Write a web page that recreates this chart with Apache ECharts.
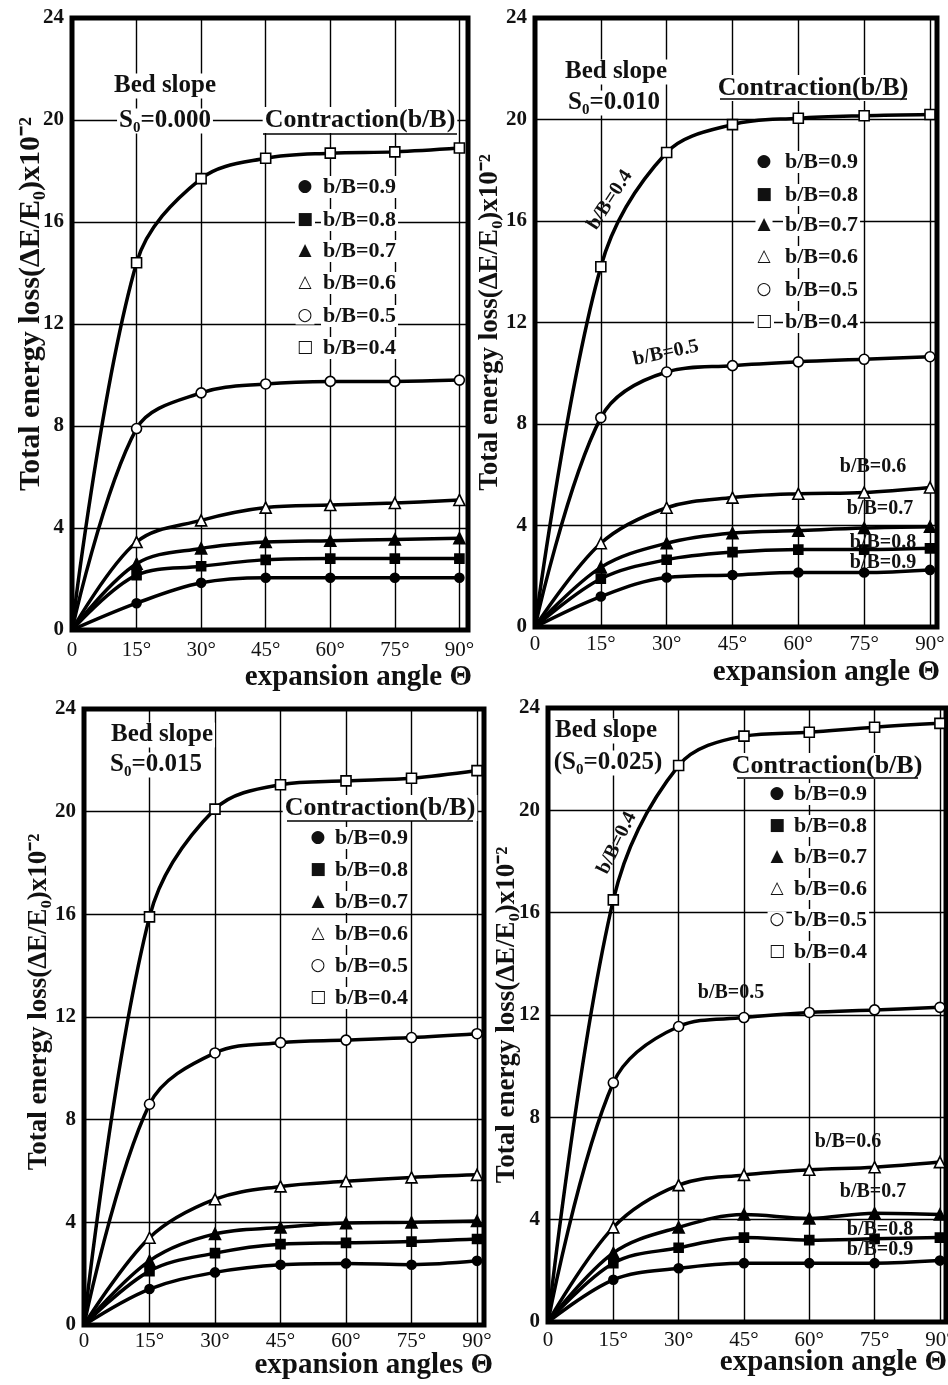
<!DOCTYPE html>
<html><head><meta charset="utf-8">
<script src="https://cdn.jsdelivr.net/npm/echarts@6/dist/echarts.min.js"></script>
<style>html,body{margin:0;padding:0;background:#fff}#c{width:948px;height:1385px}</style>
</head><body><div id="c"></div>
<script>
// ---------- data ----------
const angles = [0, 15, 30, 45, 60, 75, 90];
const xTickLabels = ['0', '15°', '30°', '45°', '60°', '75°', '90°'];
const yTickValues = [0, 4, 8, 12, 16, 20, 24];
const ratioNames = ['b/B=0.9', 'b/B=0.8', 'b/B=0.7', 'b/B=0.6', 'b/B=0.5', 'b/B=0.4'];
const slopeLabels = ['S₀=0.000', 'S₀=0.010', 'S₀=0.015', '(S₀=0.025)'];
const xAxisTitles = ['expansion angle Θ', 'expansion angle Θ', 'expansion angles Θ', 'expansion angle Θ'];
const yAxisTitle = 'Total energy loss(ΔE/E₀)x10⁻²';

// Bed slope S0 = 0.000
const s000_b09 = [0, 1.05, 1.85, 2.05, 2.05, 2.05, 2.05];
const s000_b08 = [0, 2.15, 2.5, 2.75, 2.8, 2.8, 2.8];
const s000_b07 = [0, 2.6, 3.2, 3.45, 3.5, 3.55, 3.6];
const s000_b06 = [0, 3.45, 4.3, 4.8, 4.9, 4.98, 5.1];
const s000_b05 = [0, 7.9, 9.3, 9.65, 9.75, 9.75, 9.8];
const s000_b04 = [0, 14.4, 17.7, 18.5, 18.7, 18.75, 18.9];
// Bed slope S0 = 0.010
const s010_b09 = [0, 1.2, 1.95, 2.05, 2.15, 2.15, 2.25];
const s010_b08 = [0, 1.9, 2.65, 2.95, 3.05, 3.05, 3.1];
const s010_b07 = [0, 2.35, 3.3, 3.7, 3.8, 3.9, 3.95];
const s010_b06 = [0, 3.3, 4.7, 5.1, 5.25, 5.3, 5.5];
const s010_b05 = [0, 8.25, 10.05, 10.3, 10.45, 10.55, 10.65];
const s010_b04 = [0, 14.2, 18.7, 19.8, 20.05, 20.15, 20.2];
// Bed slope S0 = 0.015
const s015_b09 = [0, 1.4, 2.05, 2.35, 2.4, 2.35, 2.5];
const s015_b08 = [0, 2.1, 2.8, 3.15, 3.2, 3.25, 3.35];
const s015_b07 = [0, 2.5, 3.55, 3.8, 3.97, 4.0, 4.05];
const s015_b06 = [0, 3.4, 4.9, 5.4, 5.6, 5.75, 5.85];
const s015_b05 = [0, 8.6, 10.6, 11.0, 11.1, 11.2, 11.35];
const s015_b04 = [0, 15.9, 20.1, 21.05, 21.2, 21.3, 21.6];
// Bed slope S0 = 0.025
const s025_b09 = [0, 1.65, 2.1, 2.3, 2.3, 2.3, 2.4];
const s025_b08 = [0, 2.3, 2.9, 3.3, 3.2, 3.25, 3.3];
const s025_b07 = [0, 2.7, 3.7, 4.2, 4.05, 4.25, 4.2];
const s025_b06 = [0, 3.7, 5.35, 5.75, 5.95, 6.05, 6.25];
const s025_b05 = [0, 9.35, 11.55, 11.9, 12.1, 12.2, 12.3];
const s025_b04 = [0, 16.5, 21.75, 22.9, 23.05, 23.25, 23.4];

// ---------- layout / styles ----------
const panelSeries = [
  [s000_b09, s000_b08, s000_b07, s000_b06, s000_b05, s000_b04],
  [s010_b09, s010_b08, s010_b07, s010_b06, s010_b05, s010_b04],
  [s015_b09, s015_b08, s015_b07, s015_b06, s015_b05, s015_b04],
  [s025_b09, s025_b08, s025_b07, s025_b06, s025_b05, s025_b04]
];
const panelBox = [
  {left: 72, top: 18, width: 396, height: 612, xMax: 92, lblM: 10, xPad: 33, xGap: 4, yGap: 26, yFont: 30, yShift: 40},
  {left: 535, top: 18, width: 402, height: 609, xMax: 91.6, lblM: 7, xPad: 31, xGap: 3, yGap: 31, yFont: 27, yShift: 0},
  {left: 84, top: 709, width: 400, height: 616, xMax: 91.6, lblM: 6, xPad: 26, xGap: 9, yGap: 31, yFont: 27, yShift: 30},
  {left: 548, top: 708, width: 398, height: 614, xMax: 91.4, lblM: 8, xPad: 26, xGap: 1, yGap: 27, yFont: 27, yShift: 0}
];
const symbolSpecs = [
  {symbol: 'circle', size: 9, fill: '#000'},
  {symbol: 'rect', size: 9, fill: '#000'},
  {symbol: 'triangle', size: 11, fill: '#000'},
  {symbol: 'triangle', size: 11, fill: '#fff'},
  {symbol: 'circle', size: 10, fill: '#fff'},
  {symbol: 'rect', size: 10, fill: '#fff'}
];
const legendGlyphs = ['●', '■', '▲', '△', '○', '□'];
const SERIF = '"Liberation Serif","Times New Roman",serif';
const NARROW = '"Liberation Sans Narrow","Liberation Serif",sans-serif';

const grids = [], xAxes = [], yAxes = [], series = [];
panelBox.forEach((b, p) => {
  grids.push({left: b.left, top: b.top, width: b.width, height: b.height,
    show: true, borderColor: '#000', borderWidth: 5, backgroundColor: '#fff',
    outerBoundsMode: 'none', containLabel: false});
  xAxes.push({type: 'value', gridIndex: p, min: 0, max: b.xMax, interval: 15,
    axisLine: {show: false}, axisTick: {show: false},
    splitLine: {show: true, lineStyle: {color: '#000', width: 1.4}},
    axisLabel: {margin: b.lblM, color: '#111', fontFamily: NARROW, fontSize: 21,
      formatter: v => { const i = angles.indexOf(v); return i >= 0 ? xTickLabels[i] : ''; }},
    name: xAxisTitles[p], nameLocation: 'end', nameGap: b.xGap, nameMoveOverlap: false,
    nameTextStyle: {fontFamily: SERIF, fontWeight: 'bold', fontSize: 29, color: '#111',
      align: 'right', verticalAlign: 'top', padding: [b.xPad, 0, 0, 0]}
  });
  yAxes.push({type: 'value', gridIndex: p, min: 0, max: 24, interval: 4,
    axisLine: {show: false}, axisTick: {show: false},
    splitLine: {show: true, lineStyle: {color: '#000', width: 1.4}},
    axisLabel: {margin: 8, color: '#111', fontFamily: NARROW, fontWeight: 'bold', fontSize: 21,
      formatter: v => yTickValues.indexOf(v) >= 0 ? String(v) : ''},
    name: yAxisTitle, nameLocation: 'middle', nameRotate: 90, nameGap: b.yGap, nameMoveOverlap: false,
    nameTextStyle: {fontFamily: SERIF, fontWeight: 'bold', fontSize: b.yFont, color: '#111',
      padding: [0, 0, 0, b.yShift]}
  });
  panelSeries[p].forEach((vals, j) => {
    const s = symbolSpecs[j];
    series.push({
      type: 'line', name: ratioNames[j] + ' (' + slopeLabels[p] + ')',
      xAxisIndex: p, yAxisIndex: p, smooth: 0.35,
      symbol: s.symbol, symbolSize: s.size, showAllSymbol: true,
      lineStyle: {color: '#000', width: 3.5},
      itemStyle: {color: s.fill, borderColor: '#000', borderWidth: 1.6},
      z: 3,
      data: angles.map((a, k) => k === 0 ? {value: [a, vals[k]], symbol: 'none'} : [a, vals[k]])
    });
  });
});

// ---------- annotations ----------
const g = [];
function txt(x, y, text, size, opts) {
  opts = opts || {};
  g.push({type: 'text', x: x, y: y, z: 50, rotation: opts.rot || 0,
    style: {text: text, fill: '#111', font: (opts.weight || 'bold') + ' ' + size + 'px ' + (opts.family || SERIF),
      textAlign: opts.align || 'center', textVerticalAlign: 'middle',
      align: opts.align || 'center', verticalAlign: 'middle',
      backgroundColor: opts.bg ? '#fff' : null, padding: opts.bg ? [0, 2] : 0}});
}
function uline(x1, x2, y) {
  g.push({type: 'line', z: 51, shape: {x1: x1, y1: y, x2: x2, y2: y}, style: {stroke: '#000', lineWidth: 1.6}});
}
const headerPos = [
  {bed: [165, 86], slope: [165, 121], con: [360, 120], ul: [263, 457, 134], sym: 305, txt: 321, ly: [187, 220, 251, 283, 316, 348]},
  {bed: [616, 72], slope: [614, 103], con: [813, 88], ul: [720, 907, 99], sym: 764, txt: 783, ly: [162, 195, 225, 257, 290, 322]},
  {bed: [162, 735], slope: [156, 765], con: [380, 808], ul: [287, 473, 821], sym: 318, txt: 333, ly: [838, 870, 902, 934, 966, 998]},
  {bed: [606, 731], slope: [608, 763], con: [827, 766], ul: [737, 918, 778], sym: 777, txt: 792, ly: [794, 826, 857, 889, 920, 952]}
];
headerPos.forEach((h, p) => {
  txt(h.bed[0], h.bed[1], 'Bed slope', 25, {bg: true});
  txt(h.slope[0], h.slope[1], slopeLabels[p], 25, {bg: true});
  txt(h.con[0], h.con[1], 'Contraction(b/B)', 26, {bg: true});
  uline(h.ul[0], h.ul[1], h.ul[2]);
  ratioNames.forEach((n, j) => {
    txt(h.sym, h.ly[j], legendGlyphs[j], 17, {bg: true, family: '"DejaVu Sans"', weight: 'bold'});
    txt(h.txt, h.ly[j], n, 22, {bg: true, align: 'left'});
  });
});
// inline curve labels (panels 2 and 4)
const D = Math.PI / 180;
txt(610, 200, 'b/B=0.4', 20, {rot: 57 * D});
txt(666, 353, 'b/B=0.5', 20, {rot: 12 * D});
txt(873, 467, 'b/B=0.6', 20);
txt(880, 509, 'b/B=0.7', 20);
txt(883, 543, 'b/B=0.8', 20);
txt(883, 563, 'b/B=0.9', 20);
txt(617, 843, 'b/B=0.4', 20, {rot: 64 * D});
txt(731, 993, 'b/B=0.5', 20);
txt(848, 1142, 'b/B=0.6', 20);
txt(873, 1192, 'b/B=0.7', 20);
txt(880, 1230, 'b/B=0.8', 20);
txt(880, 1250, 'b/B=0.9', 20);

const chart = echarts.init(document.getElementById('c'), null, {renderer: 'canvas'});
chart.setOption({
  animation: false,
  backgroundColor: '#fff',
  grid: grids, xAxis: xAxes, yAxis: yAxes, series: series, graphic: g
});
</script></body></html>
